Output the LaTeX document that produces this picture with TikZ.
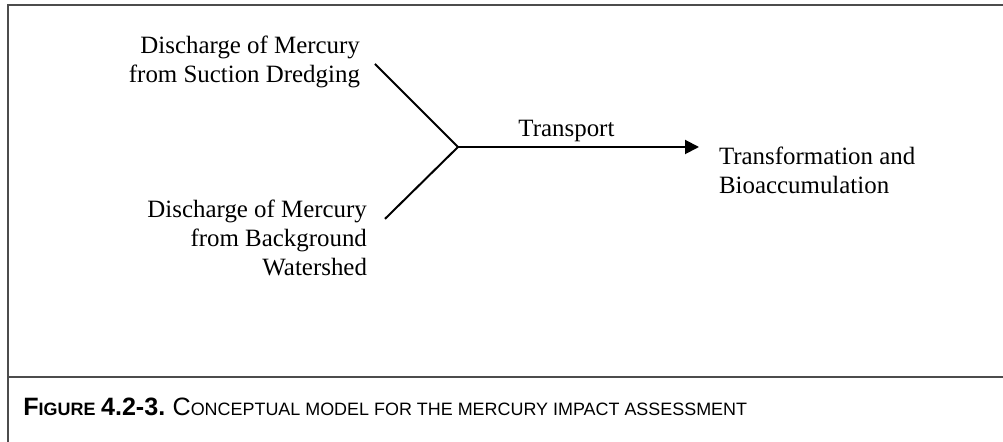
\documentclass[tikz,border=0pt]{standalone}
\usepackage{fontspec}
\setmainfont{Liberation Serif}
\newfontfamily\capfont{Liberation Sans}
\usepackage{tikz}
\usetikzlibrary{arrows.meta}
\usetikzlibrary{calc}
\tikzset{ src_text/.style = {align=right, font=\fontsize{12.5}{14.5}\selectfont} }
\tikzset{ tgt_text/.style = {align=left, font=\fontsize{12.5}{14.5}\selectfont} }
\tikzset{ flow/.style = {line width=1bp, black} }
\tikzset{ frame_line/.style = {line width=1.1bp, color=black!70} }
\newcommand{\capsc}[2]{{\fontsize{12.6}{14}\selectfont #1}{\fontsize{9}{10}\selectfont #2}}

\begin{document}
\begin{tikzpicture}[x=0.5bp, y=-0.5bp]
    \fill[white] (0,0) rectangle (1003,442);
    \useasboundingbox (0,0) rectangle (1003,442);
    \draw[frame_line] (8,442) -- (8,5) -- (1003,5);
    \draw[frame_line] (8,377) -- (1003,377);
    \node[src_text, anchor=north east] (src1) at (367,29) {Discharge of Mercury\\from Suction Dredging};
    \node[src_text, anchor=north east] (src2) at (374,193) {Discharge of Mercury\\from Background\\Watershed};
    \coordinate (J) at (458,147);
    \node[tgt_text, anchor=north west] (tgt) at (712,140) {Transformation and\\Bioaccumulation};
    \draw[flow] ($(src1.east)+(8,2)$) -- (J);
    \draw[flow] ($(src2.east)+(11,-19)$) -- (J);
    \draw[flow, -{Triangle[length=7bp, width=7bp]}] (J) -- ($(J -| tgt.west)+(-13,0)$)
        node[pos=0.45, above=-1bp, font=\fontsize{12.5}{14.5}\selectfont] (lbl) {Transport};
    \node[anchor=base west, inner sep=0pt, font=\capfont] (cap) at (23,416)
        {\textbf{\capsc{F}{IGURE} {\fontsize{12.6}{14}\selectfont 4.2-3.}} \capsc{C}{ONCEPTUAL MODEL FOR THE MERCURY IMPACT ASSESSMENT}};
\end{tikzpicture}
\end{document}
